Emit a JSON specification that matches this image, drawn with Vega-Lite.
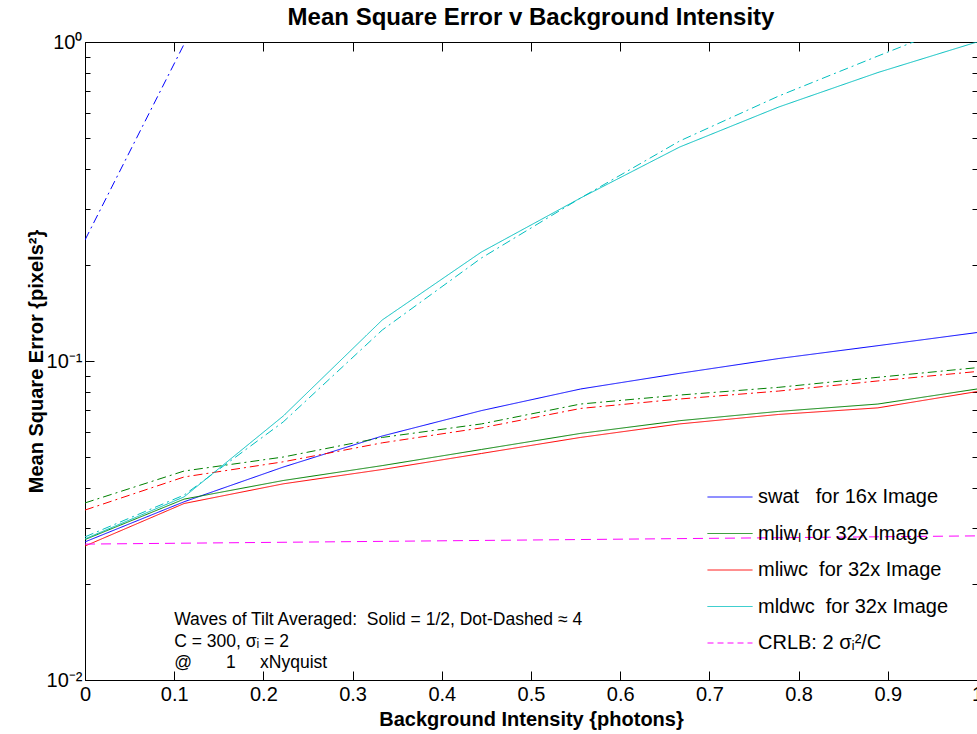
{
  "$schema": "https://vega.github.io/schema/vega-lite/v6.json",
  "width": 892,
  "height": 638,
  "autosize": {"type": "none"},
  "padding": {"left": 85, "top": 42, "right": 0, "bottom": 54},
  "background": "white",
  "title": {"text": "Mean Square Error v Background Intensity", "font": "Liberation Sans", "fontSize": 24, "fontWeight": "bold", "color": "black", "anchor": "middle", "baseline": "alphabetic", "offset": -17},
  "config": {
    "view": {"stroke": "black", "strokeWidth": 1},
    "font": "Liberation Sans",
    "axis": {"grid": false, "domainColor": "black", "domainWidth": 1, "tickColor": "black", "tickWidth": 1, "labelColor": "black", "titleColor": "black", "labelFont": "Liberation Sans", "titleFont": "Liberation Sans", "labelFontSize": 20, "titleFontSize": 20, "titleFontWeight": "bold", "labelFlush": false, "labelOverlap": false}
  },
  "resolve": {"axis": {"x": "independent", "y": "independent"}},
  "layer": [
    {
      "data": {"values": [
        {"series": "swat\u00a0\u00a0 for 16x Image", "style": "solid", "intensity": 0, "mse": 0.0271},
        {"series": "swat\u00a0\u00a0 for 16x Image", "style": "solid", "intensity": 0.1111, "mse": 0.0362},
        {"series": "swat\u00a0\u00a0 for 16x Image", "style": "solid", "intensity": 0.2222, "mse": 0.0465},
        {"series": "swat\u00a0\u00a0 for 16x Image", "style": "solid", "intensity": 0.3333, "mse": 0.0582},
        {"series": "swat\u00a0\u00a0 for 16x Image", "style": "solid", "intensity": 0.4444, "mse": 0.0699},
        {"series": "swat\u00a0\u00a0 for 16x Image", "style": "solid", "intensity": 0.5556, "mse": 0.0817},
        {"series": "swat\u00a0\u00a0 for 16x Image", "style": "solid", "intensity": 0.6667, "mse": 0.0915},
        {"series": "swat\u00a0\u00a0 for 16x Image", "style": "solid", "intensity": 0.7778, "mse": 0.1018},
        {"series": "swat\u00a0\u00a0 for 16x Image", "style": "solid", "intensity": 0.8889, "mse": 0.1117},
        {"series": "swat\u00a0\u00a0 for 16x Image", "style": "solid", "intensity": 1, "mse": 0.1228},
        {"series": "swat\u00a0\u00a0 for 16x Image", "style": "dotdash", "intensity": 0, "mse": 0.2395},
        {"series": "swat\u00a0\u00a0 for 16x Image", "style": "dotdash", "intensity": 0.1111, "mse": 0.985},
        {"series": "mliwₗ for 32x Image", "style": "solid", "intensity": 0, "mse": 0.02756},
        {"series": "mliwₗ for 32x Image", "style": "solid", "intensity": 0.1111, "mse": 0.0369},
        {"series": "mliwₗ for 32x Image", "style": "solid", "intensity": 0.2222, "mse": 0.0422},
        {"series": "mliwₗ for 32x Image", "style": "solid", "intensity": 0.3333, "mse": 0.047},
        {"series": "mliwₗ for 32x Image", "style": "solid", "intensity": 0.4444, "mse": 0.0528},
        {"series": "mliwₗ for 32x Image", "style": "solid", "intensity": 0.5556, "mse": 0.0593},
        {"series": "mliwₗ for 32x Image", "style": "solid", "intensity": 0.6667, "mse": 0.065},
        {"series": "mliwₗ for 32x Image", "style": "solid", "intensity": 0.7778, "mse": 0.0695},
        {"series": "mliwₗ for 32x Image", "style": "solid", "intensity": 0.8889, "mse": 0.0733},
        {"series": "mliwₗ for 32x Image", "style": "solid", "intensity": 1, "mse": 0.0817},
        {"series": "mliwₗ for 32x Image", "style": "dotdash", "intensity": 0, "mse": 0.0359},
        {"series": "mliwₗ for 32x Image", "style": "dotdash", "intensity": 0.1111, "mse": 0.0452},
        {"series": "mliwₗ for 32x Image", "style": "dotdash", "intensity": 0.2222, "mse": 0.05},
        {"series": "mliwₗ for 32x Image", "style": "dotdash", "intensity": 0.3333, "mse": 0.0576},
        {"series": "mliwₗ for 32x Image", "style": "dotdash", "intensity": 0.4444, "mse": 0.0635},
        {"series": "mliwₗ for 32x Image", "style": "dotdash", "intensity": 0.5556, "mse": 0.0733},
        {"series": "mliwₗ for 32x Image", "style": "dotdash", "intensity": 0.6667, "mse": 0.0782},
        {"series": "mliwₗ for 32x Image", "style": "dotdash", "intensity": 0.7778, "mse": 0.0827},
        {"series": "mliwₗ for 32x Image", "style": "dotdash", "intensity": 0.8889, "mse": 0.0889},
        {"series": "mliwₗ for 32x Image", "style": "dotdash", "intensity": 1, "mse": 0.0953},
        {"series": "mliwᴄ\u00a0 for 32x Image", "style": "solid", "intensity": 0, "mse": 0.0263},
        {"series": "mliwᴄ\u00a0 for 32x Image", "style": "solid", "intensity": 0.1111, "mse": 0.03575},
        {"series": "mliwᴄ\u00a0 for 32x Image", "style": "solid", "intensity": 0.2222, "mse": 0.0412},
        {"series": "mliwᴄ\u00a0 for 32x Image", "style": "solid", "intensity": 0.3333, "mse": 0.0457},
        {"series": "mliwᴄ\u00a0 for 32x Image", "style": "solid", "intensity": 0.4444, "mse": 0.0513},
        {"series": "mliwᴄ\u00a0 for 32x Image", "style": "solid", "intensity": 0.5556, "mse": 0.0576},
        {"series": "mliwᴄ\u00a0 for 32x Image", "style": "solid", "intensity": 0.6667, "mse": 0.0635},
        {"series": "mliwᴄ\u00a0 for 32x Image", "style": "solid", "intensity": 0.7778, "mse": 0.068},
        {"series": "mliwᴄ\u00a0 for 32x Image", "style": "solid", "intensity": 0.8889, "mse": 0.0713},
        {"series": "mliwᴄ\u00a0 for 32x Image", "style": "solid", "intensity": 1, "mse": 0.0802},
        {"series": "mliwᴄ\u00a0 for 32x Image", "style": "dotdash", "intensity": 0, "mse": 0.0341},
        {"series": "mliwᴄ\u00a0 for 32x Image", "style": "dotdash", "intensity": 0.1111, "mse": 0.0433},
        {"series": "mliwᴄ\u00a0 for 32x Image", "style": "dotdash", "intensity": 0.2222, "mse": 0.0483},
        {"series": "mliwᴄ\u00a0 for 32x Image", "style": "dotdash", "intensity": 0.3333, "mse": 0.0554},
        {"series": "mliwᴄ\u00a0 for 32x Image", "style": "dotdash", "intensity": 0.4444, "mse": 0.0617},
        {"series": "mliwᴄ\u00a0 for 32x Image", "style": "dotdash", "intensity": 0.5556, "mse": 0.071},
        {"series": "mliwᴄ\u00a0 for 32x Image", "style": "dotdash", "intensity": 0.6667, "mse": 0.076},
        {"series": "mliwᴄ\u00a0 for 32x Image", "style": "dotdash", "intensity": 0.7778, "mse": 0.0805},
        {"series": "mliwᴄ\u00a0 for 32x Image", "style": "dotdash", "intensity": 0.8889, "mse": 0.0866},
        {"series": "mliwᴄ\u00a0 for 32x Image", "style": "dotdash", "intensity": 1, "mse": 0.0927},
        {"series": "mldwᴄ\u00a0 for 32x Image", "style": "solid", "intensity": 0, "mse": 0.0277},
        {"series": "mldwᴄ\u00a0 for 32x Image", "style": "solid", "intensity": 0.1111, "mse": 0.0375},
        {"series": "mldwᴄ\u00a0 for 32x Image", "style": "solid", "intensity": 0.2222, "mse": 0.0672},
        {"series": "mldwᴄ\u00a0 for 32x Image", "style": "solid", "intensity": 0.3333, "mse": 0.1345},
        {"series": "mldwᴄ\u00a0 for 32x Image", "style": "solid", "intensity": 0.4444, "mse": 0.2196},
        {"series": "mldwᴄ\u00a0 for 32x Image", "style": "solid", "intensity": 0.5556, "mse": 0.3243},
        {"series": "mldwᴄ\u00a0 for 32x Image", "style": "solid", "intensity": 0.6667, "mse": 0.4686},
        {"series": "mldwᴄ\u00a0 for 32x Image", "style": "solid", "intensity": 0.7778, "mse": 0.6256},
        {"series": "mldwᴄ\u00a0 for 32x Image", "style": "solid", "intensity": 0.8889, "mse": 0.8023},
        {"series": "mldwᴄ\u00a0 for 32x Image", "style": "solid", "intensity": 1, "mse": 1.0},
        {"series": "mldwᴄ\u00a0 for 32x Image", "style": "dotdash", "intensity": 0, "mse": 0.0281},
        {"series": "mldwᴄ\u00a0 for 32x Image", "style": "dotdash", "intensity": 0.1111, "mse": 0.038},
        {"series": "mldwᴄ\u00a0 for 32x Image", "style": "dotdash", "intensity": 0.2222, "mse": 0.0644},
        {"series": "mldwᴄ\u00a0 for 32x Image", "style": "dotdash", "intensity": 0.3333, "mse": 0.1251},
        {"series": "mldwᴄ\u00a0 for 32x Image", "style": "dotdash", "intensity": 0.4444, "mse": 0.2103},
        {"series": "mldwᴄ\u00a0 for 32x Image", "style": "dotdash", "intensity": 0.5556, "mse": 0.3243},
        {"series": "mldwᴄ\u00a0 for 32x Image", "style": "dotdash", "intensity": 0.6667, "mse": 0.4894},
        {"series": "mldwᴄ\u00a0 for 32x Image", "style": "dotdash", "intensity": 0.7778, "mse": 0.6772},
        {"series": "mldwᴄ\u00a0 for 32x Image", "style": "dotdash", "intensity": 0.8889, "mse": 0.9037},
        {"series": "mldwᴄ\u00a0 for 32x Image", "style": "dotdash", "intensity": 1, "mse": 1.2},
        {"series": "CRLB: 2 σᵢ²/C", "style": "dashed", "intensity": 0, "mse": 0.02667},
        {"series": "CRLB: 2 σᵢ²/C", "style": "dashed", "intensity": 1, "mse": 0.0283}
      ]},
      "mark": {"type": "line", "clip": true, "strokeWidth": 1},
      "encoding": {
        "x": {"field": "intensity", "type": "quantitative",
          "scale": {"domain": [0, 1], "nice": false, "zero": false},
          "axis": {"orient": "bottom", "values": [0, 0.1, 0.2, 0.3, 0.4, 0.5, 0.6, 0.7, 0.8, 0.9, 1], "format": "~g", "tickSize": -9, "labelPadding": 13, "title": "Background Intensity {photons}", "titlePadding": 5}},
        "y": {"field": "mse", "type": "quantitative",
          "scale": {"type": "log", "domain": [0.01, 1], "nice": false},
          "axis": {"orient": "left", "values": [0.01, 0.02, 0.03, 0.04, 0.05, 0.06, 0.07, 0.08, 0.09, 0.1, 0.2, 0.3, 0.4, 0.5, 0.6, 0.7, 0.8, 0.9, 1],
            "labelExpr": "datum.value == 1 ? '10⁰' : datum.value == 0.1 ? '10⁻¹' : datum.value == 0.01 ? '10⁻²' : ''",
            "tickSize": {"condition": {"test": "datum.value == 1 || datum.value == 0.1 || datum.value == 0.01", "value": -9}, "value": -5},
            "labelPadding": 12, "labelBaseline": "middle",
            "title": "Mean Square Error {pixels²}", "titlePadding": 0}},
        "color": {"field": "series", "type": "nominal",
          "scale": {"domain": ["swat\u00a0\u00a0 for 16x Image", "mliwₗ for 32x Image", "mliwᴄ\u00a0 for 32x Image", "mldwᴄ\u00a0 for 32x Image", "CRLB: 2 σᵢ²/C"],
                    "range": ["#0000ff", "#008000", "#ff0000", "#00bfbf", "#ff00ff"]},
          "legend": {"orient": "none", "legendX": 622, "legendY": 432, "title": null, "padding": 0,
            "symbolType": "stroke", "symbolSize": 2025, "symbolStrokeWidth": 1,
            "labelFont": "Liberation Sans", "labelFontSize": 20, "labelColor": "black", "labelOffset": 5, "labelLimit": 400,
            "rowPadding": 3.5,
            "encode": {"symbols": {"update": {"strokeDash": {"signal": "indexof(datum.value, 'CRLB') == 0 ? [6, 4] : [1, 0]"}}}}}},
        "strokeDash": {"field": "style", "type": "nominal",
          "scale": {"domain": ["solid", "dotdash", "dashed"], "range": [[1, 0], [9, 4, 2, 4], [10, 6]]},
          "legend": null}
      }
    },
    {
      "data": {"values": [{"note": "Waves of Tilt Averaged:\u00a0 Solid = 1/2, Dot-Dashed ≈ 4\nC = 300, σᵢ = 2\n@\u00a0\u00a0\u00a0\u00a0\u00a0\u00a0 1\u00a0\u00a0\u00a0\u00a0 xNyquist"}]},
      "mark": {"type": "text", "align": "left", "baseline": "alphabetic", "lineBreak": "\n", "lineHeight": 21.5, "fontSize": 17.5, "font": "Liberation Sans", "color": "black"},
      "encoding": {
        "x": {"datum": 0.1, "type": "quantitative",
          "axis": {"orient": "top", "values": [0, 0.1, 0.2, 0.3, 0.4, 0.5, 0.6, 0.7, 0.8, 0.9, 1], "labels": false, "tickSize": -9, "title": null}},
        "y": {"datum": 0.01487, "type": "quantitative",
          "axis": {"orient": "right", "values": [0.01, 0.02, 0.03, 0.04, 0.05, 0.06, 0.07, 0.08, 0.09, 0.1, 0.2, 0.3, 0.4, 0.5, 0.6, 0.7, 0.8, 0.9, 1], "labels": false,
            "tickSize": {"condition": {"test": "datum.value == 1 || datum.value == 0.1 || datum.value == 0.01", "value": -9}, "value": -5},
            "title": null}},
        "text": {"field": "note"}
      }
    }
  ]
}
